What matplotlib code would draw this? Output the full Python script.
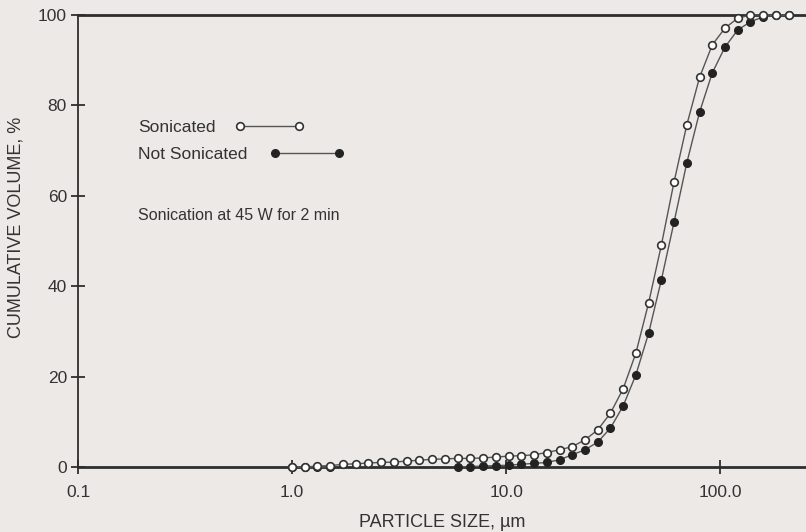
import matplotlib.pyplot as plt
import numpy as np

# particle size bins (um), same for both runs
sizes = [1.000, 1.147, 1.315, 1.508, 1.730, 1.984, 2.275, 2.610, 2.992, 3.432,
         3.936, 4.513, 5.176, 5.936, 6.808, 7.807, 8.954, 10.27, 11.78, 13.51,
         15.49, 17.77, 20.37, 23.37, 26.79, 30.73, 35.24, 40.42, 46.35, 53.16,
         60.95, 69.91, 80.17, 91.94, 105.4, 120.9, 138.7, 159.0, 182.4, 209.2]

sonicated = [0.0, 0.0, 0.2, 0.3, 0.6, 0.7, 0.9, 1.0, 1.1, 1.3,
             1.5, 1.7, 1.8, 1.9, 1.9, 2.0, 2.2, 2.4, 2.5, 2.7,
             3.2, 3.8, 4.5, 6.0, 8.2, 11.9, 17.3, 25.2, 36.3, 49.1,
             63.1, 75.7, 86.2, 93.4, 97.1, 99.3, 100, 100, 100, 100]

not_sonicated = [0.0, 0.0, 0.0, 0.0, np.nan, np.nan, np.nan, np.nan, np.nan, np.nan,
                 np.nan, np.nan, np.nan, 0.0, 0.1, 0.2, 0.3, 0.4, 0.6, 0.8,
                 1.0, 1.6, 2.7, 3.8, 5.5, 8.6, 13.5, 20.4, 29.6, 41.4,
                 54.2, 67.3, 78.5, 87.2, 92.9, 96.7, 98.5, 99.6, 100, 100]

xticks = [0.1, 1.0, 10.0, 100.0]
xticklabels = ['0.1', '1.0', '10.0', '100.0']
yticks = [0, 20, 40, 60, 80, 100]

bg = '#ECE9E6'
ink = '#2e2e2e'
txt = '#333333'
plt.rcParams['font.family'] = ['Liberation Sans', 'DejaVu Sans']

fig = plt.figure(figsize=(8.06, 5.32), dpi=100, facecolor=bg)
ax = fig.add_axes([0.0968, 0.1222, 0.9032, 0.8496], facecolor=bg)

ax.set_xscale('log')
ax.set_xlim(0.1, 252)
ax.set_ylim(0, 100)

l2, = ax.plot(sizes, not_sonicated, color='#555555', lw=1.0, marker='o', ms=5.5,
              mfc='#222222', mec='#222222', clip_on=False, zorder=3)
l1, = ax.plot(sizes, sonicated, color='#555555', lw=1.0, marker='o', ms=5.5,
              mfc='white', mec='#333333', mew=1.2, clip_on=False, zorder=4)

ax.spines['right'].set_visible(False)
ax.spines['top'].set_linewidth(2.0)
ax.spines['bottom'].set_linewidth(2.0)
ax.spines['left'].set_linewidth(1.3)
for s in ax.spines.values():
    s.set_color(ink)

ax.set_xticks(xticks)
ax.set_xticklabels(xticklabels)
ax.minorticks_off()
ax.set_yticks(yticks)
ax.tick_params(axis='both', direction='inout', length=10, width=1.3, color=ink,
               labelsize=12.5, labelcolor=txt)
ax.tick_params(axis='x', pad=8)
ax.tick_params(axis='y', pad=3)

ax.set_xlabel('PARTICLE SIZE, µm', fontsize=13, color=txt, labelpad=10)
ax.set_ylabel('CUMULATIVE VOLUME, %', fontsize=13, color=txt)
ax.yaxis.set_label_coords(-0.073, 0.53)

leg1 = ax.legend([l1], ['Sonicated'], loc='center left',
                 bbox_to_anchor=(138 / 806, 1 - 127 / 532), bbox_transform=fig.transFigure,
                 frameon=False, markerfirst=False, numpoints=2, handlelength=4.0,
                 handletextpad=1.1, borderpad=0, borderaxespad=0, fontsize=12.5)
ax.add_artist(leg1)
leg2 = ax.legend([l2], ['Not Sonicated'], loc='center left',
                 bbox_to_anchor=(138 / 806, 1 - 154 / 532), bbox_transform=fig.transFigure,
                 frameon=False, markerfirst=False, numpoints=2, handlelength=4.3,
                 handletextpad=1.3, borderpad=0, borderaxespad=0, fontsize=12.5)
for leg in (leg1, leg2):
    for t in leg.get_texts():
        t.set_color(txt)

fig.text(138 / 806, 1 - 215 / 532, 'Sonication at 45 W for 2 min', fontsize=11.5,
         color=txt, va='center', ha='left')

fig.savefig('out.png', dpi=100, facecolor=bg)
